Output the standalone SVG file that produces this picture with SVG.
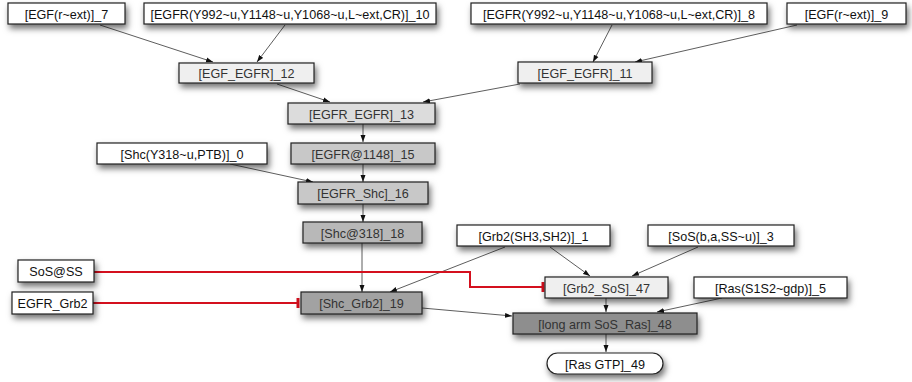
<svg xmlns="http://www.w3.org/2000/svg" width="912" height="382" viewBox="0 0 912 382">
<defs>
<filter id="sh" x="-20%" y="-40%" width="140%" height="220%">
<feDropShadow dx="2" dy="4" stdDeviation="3" flood-color="#000" flood-opacity="0.55"/>
</filter>
<marker id="ar" markerWidth="8" markerHeight="6" refX="7" refY="3" orient="auto" markerUnits="userSpaceOnUse">
<path d="M0,0.5 L7,3 L0,5.5 z" fill="#111"/>
</marker>
<style>
.n rect{stroke:#222;stroke-width:1.2;filter:url(#sh)}
.n text{font-family:"Liberation Sans",Arial,sans-serif;font-size:12.6px;text-anchor:middle}
.w rect{fill:#fff}.w text{fill:#111}
.l1 rect{fill:#efefef}.l1 text{fill:#333}
.l2 rect{fill:#dcdcdc}.l2 text{fill:#333}
.l3 rect{fill:#c8c8c8}.l3 text{fill:#333}
.l4 rect{fill:#b8b8b8}.l4 text{fill:#333}
.l5 rect{fill:#a2a2a2}.l5 text{fill:#333}
.l6 rect{fill:#8e8e8e}.l6 text{fill:#333}
.e line,.e polyline{stroke:#333;stroke-width:0.8;fill:none;marker-end:url(#ar)}
.r{stroke:#d4101e;stroke-width:2;fill:none}
.t{stroke:#d4101e;stroke-width:3}
</style>
</defs>
<g id="connectors">
<g class="e">
<line x1="100" y1="25" x2="213" y2="62"/>
<line x1="285" y1="25" x2="257" y2="62"/>
<line x1="277" y1="84" x2="330" y2="102"/>
<line x1="520" y1="84" x2="423" y2="102"/>
<line x1="612" y1="25" x2="593" y2="62"/>
<line x1="797" y1="25" x2="635" y2="62"/>
<line x1="363" y1="124" x2="363" y2="142"/>
<line x1="363" y1="164" x2="363" y2="182"/>
<line x1="230" y1="164" x2="313" y2="182"/>
<line x1="363" y1="204" x2="363" y2="222"/>
<line x1="362" y1="243" x2="362" y2="292"/>
<line x1="505" y1="247" x2="390" y2="292"/>
<line x1="550" y1="247" x2="590" y2="276"/>
<line x1="698" y1="247" x2="632" y2="276"/>
<line x1="606" y1="298" x2="606" y2="312"/>
<line x1="722" y1="298" x2="657" y2="312"/>
<line x1="422" y1="308" x2="512" y2="316"/>
<line x1="606" y1="334" x2="606" y2="352"/>
</g>
<polyline class="r" points="94,272 470,272 470,287 543,287"/>
<line class="t" x1="543" y1="282" x2="543" y2="292"/>
<line class="r" x1="93" y1="303" x2="298" y2="303"/>
<line class="t" x1="298" y1="298" x2="298" y2="308"/>
</g>
<g id="n7" class="n w"><rect x="8" y="3" width="117" height="21"/><text x="66.5" y="18.5">[EGF(r~ext)]_7</text></g>
<g id="n10" class="n w"><rect x="144" y="3" width="292" height="21"/><text x="290" y="18.5">[EGFR(Y992~u,Y1148~u,Y1068~u,L~ext,CR)]_10</text></g>
<g id="n8" class="n w"><rect x="471" y="3" width="296" height="21"/><text x="619" y="18.5">[EGFR(Y992~u,Y1148~u,Y1068~u,L~ext,CR)]_8</text></g>
<g id="n9" class="n w"><rect x="787" y="3" width="119" height="21"/><text x="846.5" y="18.5">[EGF(r~ext)]_9</text></g>
<g id="n12" class="n l1"><rect x="179" y="63" width="135" height="20"/><text x="246.5" y="78">[EGF_EGFR]_12</text></g>
<g id="n11" class="n l1"><rect x="518" y="62" width="134" height="21"/><text x="585" y="77.5">[EGF_EGFR]_11</text></g>
<g id="n13" class="n l2"><rect x="288" y="103" width="147" height="21"/><text x="361.5" y="118.5">[EGFR_EGFR]_13</text></g>
<g id="n0" class="n w"><rect x="97" y="143" width="170" height="21"/><text x="182" y="158.5">[Shc(Y318~u,PTB)]_0</text></g>
<g id="n15" class="n l3"><rect x="291" y="143" width="144" height="21"/><text x="363" y="158.5">[EGFR@1148]_15</text></g>
<g id="n16" class="n l3"><rect x="298" y="182" width="130" height="22"/><text x="363" y="197.5">[EGFR_Shc]_16</text></g>
<g id="n18" class="n l4"><rect x="303" y="222" width="119" height="21"/><text x="362.5" y="237.5">[Shc@318]_18</text></g>
<g id="n1" class="n w"><rect x="457" y="225" width="153" height="21"/><text x="533.5" y="240.5">[Grb2(SH3,SH2)]_1</text></g>
<g id="n3" class="n w"><rect x="648" y="225" width="146" height="21"/><text x="721" y="240.5">[SoS(b,a,SS~u)]_3</text></g>
<g id="nSoSSS" class="n w"><rect x="18" y="260" width="76" height="22"/><text x="56" y="275.5">SoS@SS</text></g>
<g id="nEGFRGrb2" class="n w"><rect x="12" y="292" width="81" height="22"/><text x="52.5" y="307.5">EGFR_Grb2</text></g>
<g id="n47" class="n l1"><rect x="545" y="277" width="123" height="21"/><text x="606.5" y="292.5">[Grb2_SoS]_47</text></g>
<g id="n5" class="n w"><rect x="694" y="277" width="153" height="21"/><text x="770.5" y="292.5">[Ras(S1S2~gdp)]_5</text></g>
<g id="n19" class="n l5"><rect x="301" y="292" width="121" height="22"/><text x="361.5" y="307.5">[Shc_Grb2]_19</text></g>
<g id="n48" class="n l6"><rect x="513" y="313" width="184" height="21"/><text x="605" y="328.5">[long arm SoS_Ras]_48</text></g>
<g id="n49" class="n w"><rect x="547" y="353" width="116" height="21" rx="10.5" ry="10.5"/><text x="605" y="368.5">[Ras GTP]_49</text></g>
</svg>
